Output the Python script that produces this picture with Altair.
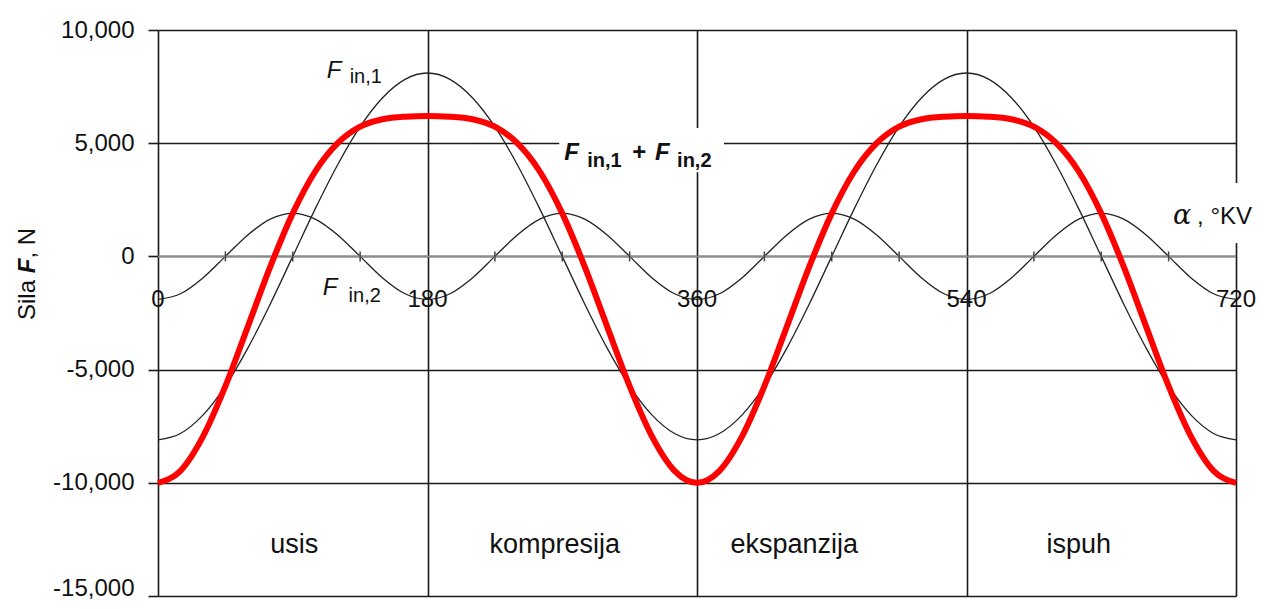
import altair as alt
import pandas as pd

# ---- data ----
angles = list(range(0, 721, 15))
f_in1 = [-8100, -7820, -7010, -5730, -4050, -2100, 0, 2100, 4050, 5730, 7010, 7820, 8100,
         7820, 7010, 5730, 4050, 2100, 0, -2100, -4050, -5730, -7010, -7820, -8100,
         -7820, -7010, -5730, -4050, -2100, 0, 2100, 4050, 5730, 7010, 7820, 8100,
         7820, 7010, 5730, 4050, 2100, 0, -2100, -4050, -5730, -7010, -7820, -8100]
f_in2 = [-1900, -1650, -950, 0, 950, 1650, 1900, 1650, 950, 0, -950, -1650, -1900,
         -1650, -950, 0, 950, 1650, 1900, 1650, 950, 0, -950, -1650, -1900,
         -1650, -950, 0, 950, 1650, 1900, 1650, 950, 0, -950, -1650, -1900,
         -1650, -950, 0, 950, 1650, 1900, 1650, 950, 0, -950, -1650, -1900]
f_sum = [a + b for a, b in zip(f_in1, f_in2)]

x_ticks = [0, 180, 360, 540, 720]
x_tick_labels = ["0", "180", "360", "540", "720"]
y_ticks = [-15000, -10000, -5000, 0, 5000, 10000]
minor_ticks = [45, 90, 135, 225, 270, 315, 405, 450, 495, 585, 630, 675]
phases = ["usis", "kompresija", "ekspanzija", "ispuh"]
phase_x = [91, 265, 425, 615]

FONT = "Liberation Sans"
GRID = "#1a1a1a"

thin = pd.DataFrame({
    "angle": angles * 2,
    "value": f_in1 + f_in2,
    "series": ["F_in,1"] * len(angles) + ["F_in,2"] * len(angles),
})
red = pd.DataFrame({"angle": angles, "value": f_sum})

xs = alt.Scale(domain=[0, 720], nice=False, zero=False)
ys = alt.Scale(domain=[-15000, 10000], nice=False, zero=False)

X = alt.X("angle:Q", scale=xs, title=None,
          axis=alt.Axis(values=x_ticks, grid=True, gridColor=GRID, gridWidth=1.6,
                        labels=False, ticks=False, domain=False, title=None))
Y = alt.Y("value:Q", scale=ys, title=None,
          axis=alt.Axis(values=y_ticks, grid=True, gridColor=GRID, gridWidth=1.6,
                        tickSize=10, tickColor=GRID, tickWidth=1.6, domain=False,
                        labelFont=FONT, labelFontSize=24, labelColor="#111111",
                        labelPadding=14,
                        labelOffset={"condition": {"test": "datum.value == -15000", "value": -8},
                                     "value": 0},
                        labelExpr="replace(format(datum.value, ','), '\u2212', '-')",
                        title=None))

thin_lines = alt.Chart(thin).mark_line(
    color="#222222", strokeWidth=1.3, interpolate="monotone"
).encode(x=X, y=Y, detail="series:N")

zero_line = alt.Chart(pd.DataFrame({"y": [0]})).mark_rule(
    color="#8c8c8c", strokeWidth=2
).encode(y=alt.Y("y:Q", title=None))

zero_ticks = alt.Chart(pd.DataFrame({"x": minor_ticks, "lo": [-220] * len(minor_ticks),
                                     "hi": [220] * len(minor_ticks)})).mark_rule(
    color="#444444", strokeWidth=1.5
).encode(x=alt.X("x:Q", title=None), y=alt.Y("lo:Q", title=None), y2="hi:Q")

red_line = alt.Chart(red).mark_line(
    color="#ff0000", strokeWidth=6, interpolate="monotone"
).encode(x=alt.X("angle:Q", title=None), y=alt.Y("value:Q", title=None))

boxes = alt.Chart(pd.DataFrame({
    "x1": [268, 673], "x2": [378, 736], "y1": [3720, 590], "y2": [5670, 3240]
})).mark_rect(fill="white").encode(
    x=alt.X("x1:Q", title=None), x2="x2:Q", y=alt.Y("y1:Q", title=None), y2="y2:Q")


def texts(df, **kw):
    return alt.Chart(df).mark_text(font=FONT, color="#111111", **kw).encode(
        x=alt.X("x:Q", title=None), y=alt.Y("y:Q", title=None),
        text="t:N", size=alt.Size("s:Q", scale=None, legend=None))


# tick labels along the zero line
xlab = texts(pd.DataFrame({"x": x_ticks, "y": [-1926] * 5, "t": x_tick_labels, "s": [24] * 5}),
             align="center", baseline="middle")
# phase labels
phl = texts(pd.DataFrame({"x": phase_x, "y": [-13080] * 4, "t": phases, "s": [27] * 4}),
            align="center", baseline="alphabetic")
# italic F of thin labels
it_f = texts(pd.DataFrame({"x": [112.7, 110], "y": [7875, -1705], "t": ["F", "F"], "s": [24, 24]}),
             align="left", baseline="alphabetic", fontStyle="italic")
# subscripts of thin labels
sub_thin = texts(pd.DataFrame({"x": [128, 127.3], "y": [7659, -2014], "t": ["in,1", "in,2"],
                               "s": [20, 20]}),
                 align="left", baseline="alphabetic")
# bold label F_in,1 + F_in,2
bold_f = texts(pd.DataFrame({"x": [271.3, 332], "y": [4258, 4258], "t": ["F", "F"], "s": [24, 24]}),
               align="left", baseline="alphabetic", fontStyle="italic", fontWeight="bold")
bold_rest = texts(pd.DataFrame({"x": [286.7, 316.7, 346.7], "y": [3949, 4258, 3949],
                                "t": ["in,1", "+", "in,2"], "s": [20, 24, 20]}),
                  align="left", baseline="alphabetic", fontWeight="bold")
# alpha axis label
alpha = alt.Chart(pd.DataFrame({"x": [678], "y": [1431], "t": ["\u03b1"]})).mark_text(
    font="DejaVu Serif", fontStyle="italic", fontSize=27, color="#111111",
    align="left", baseline="alphabetic"
).encode(x=alt.X("x:Q", title=None), y=alt.Y("y:Q", title=None), text="t:N")
kv = texts(pd.DataFrame({"x": [694], "y": [1431], "t": [", \u00b0KV"], "s": [24]}),
           align="left", baseline="alphabetic")

# y axis title "Sila F, N" (F bold italic), rotated
one = pd.DataFrame({"a": [0]})
yt1 = alt.Chart(one).mark_text(font=FONT, fontSize=24, angle=270, align="left",
                               baseline="middle", color="#111111", text="Sila ").encode(
    x=alt.value(-130), y=alt.value(290))
yt2 = alt.Chart(one).mark_text(font=FONT, fontSize=24, angle=270, align="left",
                               baseline="middle", color="#111111", text="F",
                               fontStyle="italic", fontWeight="bold").encode(
    x=alt.value(-130), y=alt.value(243.3))
yt3 = alt.Chart(one).mark_text(font=FONT, fontSize=24, angle=270, align="left",
                               baseline="middle", color="#111111", text=", N").encode(
    x=alt.value(-130), y=alt.value(228.6))

chart = alt.layer(
    thin_lines, zero_line, zero_ticks, red_line, boxes,
    xlab, phl, it_f, sub_thin, bold_f, bold_rest, alpha, kv, yt1, yt2, yt3
).properties(
    width=1078, height=566,
    autosize=alt.AutoSizeParams(type="none"),
    padding={"left": 150, "top": 22, "right": 20, "bottom": 5},
    background="white",
).configure_view(strokeWidth=0)

chart.save("out.html", embed_options={"renderer": "svg", "actions": False})
